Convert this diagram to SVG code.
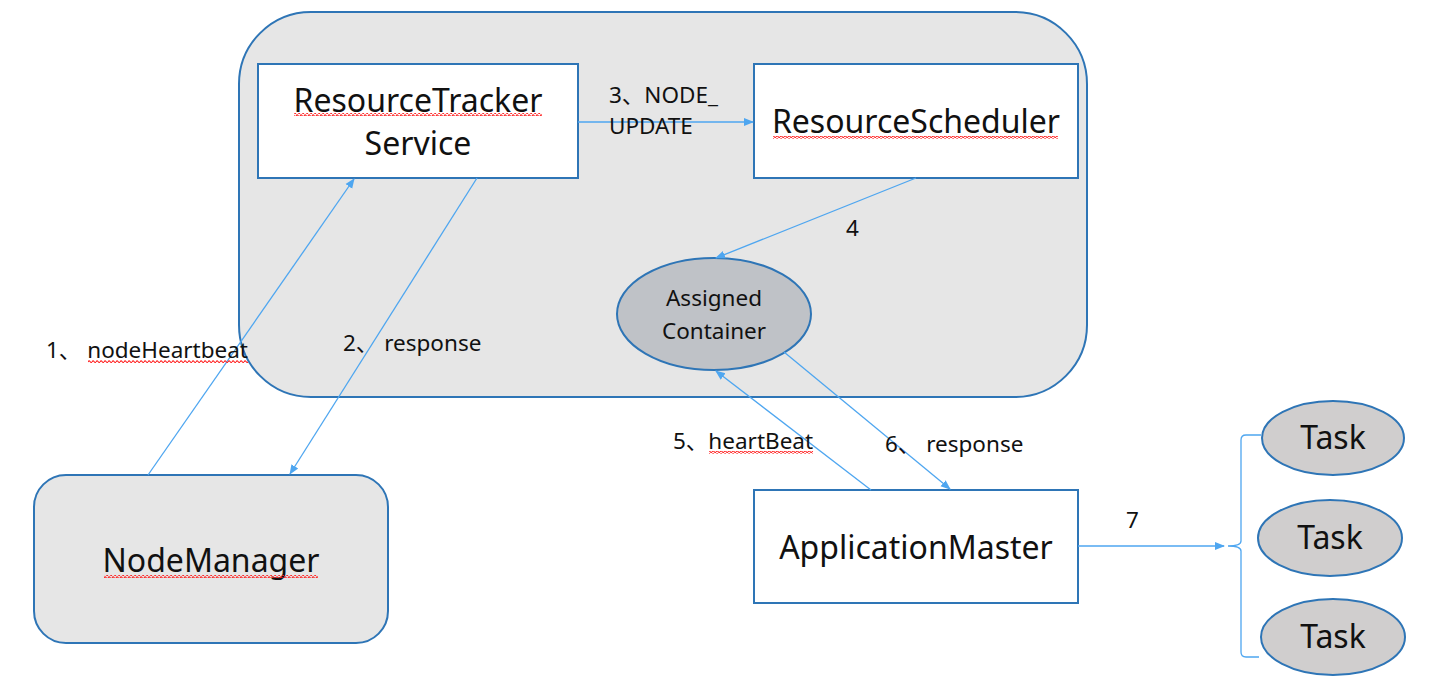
<svg xmlns="http://www.w3.org/2000/svg" width="1429" height="678" viewBox="0 0 1429 678">
<style>
.box{fill:#fff;stroke:#2e75b6;stroke-width:2}
.grey{fill:#e6e6e6;stroke:#2e75b6;stroke-width:2}
.ell{fill:#bfc2c7;stroke:#2e75b6;stroke-width:2}
.task{fill:#d0cece;stroke:#2e75b6;stroke-width:2}
.t{font-family:"Noto Sans","Noto Sans CJK SC",sans-serif;fill:#111}
.big{font-size:32px;text-anchor:middle}
.lbl{font-size:22.5px}
.con{stroke:#4ea6f0;stroke-width:1.3;fill:none}
.sq{fill:url(#wave)}
</style>
<defs>
<marker id="ah" viewBox="0 0 10 10" refX="9" refY="5" markerWidth="10" markerHeight="10" markerUnits="userSpaceOnUse" orient="auto">
<path d="M0,1 L10,5 L0,9 Z" fill="#4ea6f0"/>
</marker>
<pattern id="wave" width="4" height="3" patternUnits="userSpaceOnUse">
<path d="M0,2 Q1,0 2,1.5 T4,2" fill="none" stroke="#ff2020" stroke-width="1.1"/>
</pattern>
</defs>
<g id="rm">
<rect x="239" y="12" width="848" height="385" rx="72" ry="72" class="grey"/>
</g>
<g id="rts">
<rect x="258" y="64" width="320" height="114" class="box"/>
<text class="t big" x="418" y="112">ResourceTracker</text>
<text class="t big" x="418" y="155">Service</text>
</g>
<g id="rs">
<rect x="754" y="64" width="324" height="114" class="box"/>
<text class="t big" x="916" y="133">ResourceScheduler</text>
</g>
<g id="ac">
<ellipse cx="714" cy="314" rx="97" ry="56" class="ell"/>
<text class="t" font-size="22.5" text-anchor="middle" x="714" y="306">Assigned</text>
<text class="t" font-size="22.5" text-anchor="middle" x="714" y="339">Container</text>
</g>
<g id="nm">
<rect x="34" y="475" width="354" height="168" rx="32" ry="32" class="grey"/>
<text class="t big" x="211" y="572">NodeManager</text>
</g>
<g id="am">
<rect x="754" y="490" width="324" height="113" class="box"/>
<text class="t big" x="916" y="559">ApplicationMaster</text>
</g>
<g id="task1">
<ellipse cx="1333" cy="438" rx="71" ry="37" class="task"/>
<text class="t big" x="1333" y="449">Task</text>
</g>
<g id="task2">
<ellipse cx="1330" cy="538" rx="72" ry="38" class="task"/>
<text class="t big" x="1330" y="549">Task</text>
</g>
<g id="task3">
<ellipse cx="1333" cy="637" rx="72" ry="38" class="task"/>
<text class="t big" x="1333" y="648">Task</text>
</g>
<g id="connectors">
<line x1="148" y1="475" x2="354" y2="179" class="con" marker-end="url(#ah)"/>
<line x1="477" y1="178" x2="290" y2="474" class="con" marker-end="url(#ah)"/>
<line x1="578" y1="122" x2="753" y2="122" class="con" marker-end="url(#ah)"/>
<line x1="916" y1="178" x2="716" y2="258" class="con" marker-end="url(#ah)"/>
<line x1="871" y1="490" x2="716" y2="371" class="con" marker-end="url(#ah)"/>
<line x1="784" y1="352" x2="950" y2="489" class="con" marker-end="url(#ah)"/>
<line x1="1078" y1="546" x2="1224" y2="546" class="con" marker-end="url(#ah)"/>
<path d="M1261,435 L1246,435 Q1241,435 1241,440 L1241,541 Q1241,546 1228,546 Q1241,546 1241,551 L1241,652 Q1241,657 1246,657 L1259,657" class="con"/>
</g>
<g id="labels">
<text class="t lbl" x="46" y="358">1、 nodeHeartbeat</text>
<text class="t lbl" x="343" y="351">2、 response</text>
<text class="t lbl" x="609" y="103">3、NODE_</text>
<text class="t lbl" x="609" y="134">UPDATE</text>
<text class="t lbl" x="846" y="236">4</text>
<text class="t lbl" x="673" y="449">5、heartBeat</text>
<text class="t lbl" x="885" y="452">6、 response</text>
<text class="t lbl" x="1126" y="528">7</text>
</g>
<g id="squiggles">
<rect class="sq" x="294" y="113" width="248" height="3"/>
<rect class="sq" x="773" y="136" width="285" height="3"/>
<rect class="sq" x="104" y="575" width="214" height="3"/>
<rect class="sq" x="88" y="360" width="160" height="3"/>
<rect class="sq" x="709" y="451" width="104" height="3"/>
</g>
</svg>
